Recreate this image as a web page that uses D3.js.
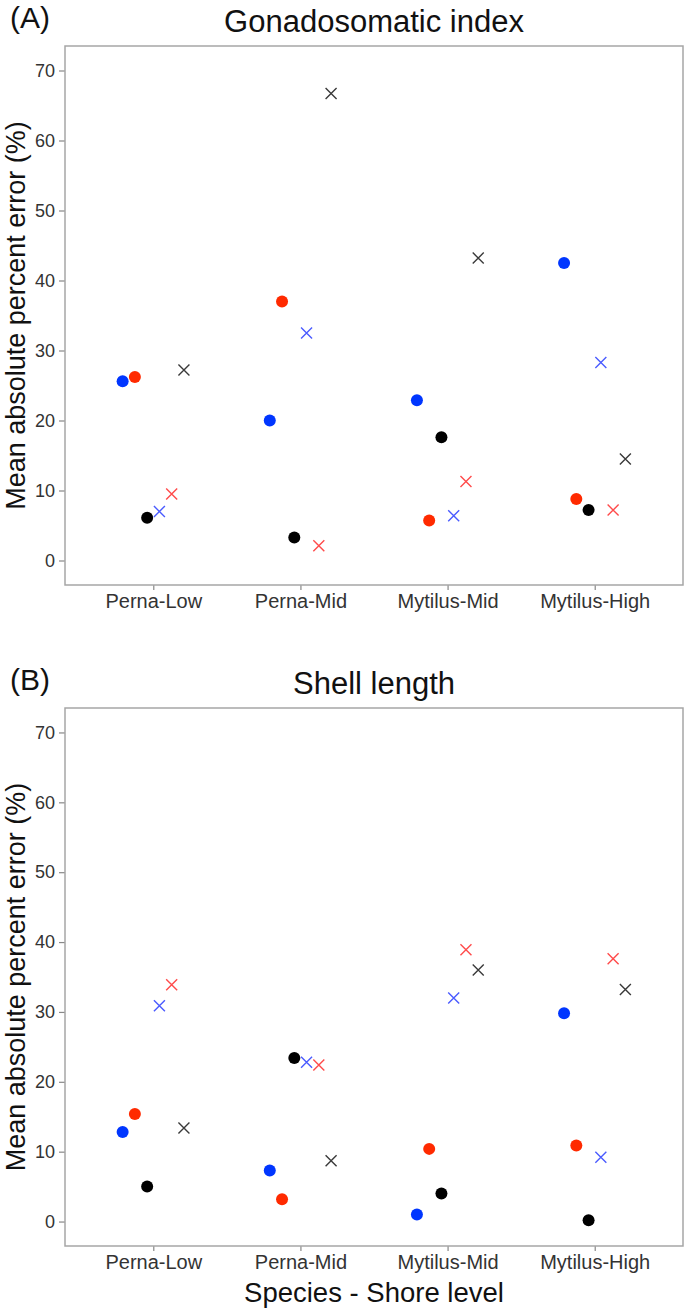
<!DOCTYPE html>
<html lang="en">
<head>
<meta charset="UTF-8">
<title>Mean absolute percent error</title>
<script src="https://d3js.org/d3.v7.min.js"></script>
<style>
  body { margin: 0; background: #fff; }
  text { font-family: "Liberation Sans", Arial, sans-serif; }
</style>
</head>
<body>
<script>
// categories on the x axis
const categories = ["Perna-Low", "Perna-Mid", "Mytilus-Mid", "Mytilus-High"];
const seriesKeys = ["blueDot", "redDot", "blackDot", "blueCross", "redCross", "blackCross"];
const yTicks = [0, 10, 20, 30, 40, 50, 60, 70];

// (A) Gonadosomatic index
const gsiBlueDot    = [25.6, 20.0, 22.9, 42.5];
const gsiRedDot     = [26.2, 37.0, 5.7, 8.8];
const gsiBlackDot   = [6.1, 3.3, 17.6, 7.2];
const gsiBlueCross  = [7.0, 32.5, 6.4, 28.3];
const gsiRedCross   = [9.5, 2.1, 11.3, 7.2];
const gsiBlackCross = [27.2, 66.7, 43.2, 14.5];

// (B) Shell length
const slBlueDot    = [12.8, 7.3, 1.0, 29.8];
const slRedDot     = [15.4, 3.2, 10.4, 10.9];
const slBlackDot   = [5.0, 23.4, 4.0, 0.2];
const slBlueCross  = [30.9, 22.8, 32.0, 9.2];
const slRedCross   = [33.9, 22.4, 38.9, 37.6];
const slBlackCross = [13.4, 8.7, 36.0, 33.2];

const W = 685, H = 1314;
const left = 65, right = 683;

const style = {
  blueDot:    {shape: "dot",   color: "#0036ff"},
  redDot:     {shape: "dot",   color: "#ff2a00"},
  blackDot:   {shape: "dot",   color: "#000000"},
  blueCross:  {shape: "cross", color: "#4a5bff"},
  redCross:   {shape: "cross", color: "#ff4b4b"},
  blackCross: {shape: "cross", color: "#3a3a3a"}
};

const panels = [
  {tag: "(A)", title: "Gonadosomatic index", top: 46, bottom: 585,
   series: [gsiBlueDot, gsiRedDot, gsiBlackDot, gsiBlueCross, gsiRedCross, gsiBlackCross]},
  {tag: "(B)", title: "Shell length", top: 708, bottom: 1246,
   series: [slBlueDot, slRedDot, slBlackDot, slBlueCross, slRedCross, slBlackCross]}
];

const svg = d3.select("body").append("svg")
  .attr("width", W)
  .attr("height", H);

const x = d3.scalePoint().domain(categories).range([left, right]).padding(0.6);
const step = x.step();
const dodge = d3.scaleBand().domain(seriesKeys).range([-step * 0.25, step * 0.25]);

panels.forEach(p => {
  const g = svg.append("g");
  const y = d3.scaleLinear().domain([-3.5, 73.5]).range([p.bottom, p.top]);

  // panel title and tag
  g.append("text")
    .attr("x", 10).attr("y", p.top - 18)
    .attr("font-size", 30).attr("fill", "#111")
    .text(p.tag);
  g.append("text")
    .attr("x", (left + right) / 2).attr("y", p.top - 14)
    .attr("text-anchor", "middle")
    .attr("font-size", 31).attr("fill", "#111")
    .text(p.title);

  // y axis
  const ya = g.append("g")
    .attr("transform", `translate(${left},0)`)
    .call(d3.axisLeft(y).tickValues(yTicks).tickSize(6).tickPadding(4));
  ya.select(".domain").remove();
  ya.selectAll(".tick line").attr("stroke", "#888").attr("stroke-width", 1.2);
  ya.selectAll(".tick text").attr("font-size", 18).attr("fill", "#333")
    .attr("font-family", "Liberation Sans, Arial, sans-serif");

  // x axis
  const xa = g.append("g")
    .attr("transform", `translate(0,${p.bottom})`)
    .call(d3.axisBottom(x).tickSize(5).tickPadding(4));
  xa.select(".domain").remove();
  xa.selectAll(".tick line").attr("stroke", "#888").attr("stroke-width", 1.2);
  xa.selectAll(".tick text").attr("font-size", 20).attr("fill", "#333")
    .attr("font-family", "Liberation Sans, Arial, sans-serif");

  // panel border
  g.append("rect")
    .attr("x", left).attr("y", p.top)
    .attr("width", right - left).attr("height", p.bottom - p.top)
    .attr("fill", "none").attr("stroke", "#a6a6a6").attr("stroke-width", 1.5);

  // y axis title
  g.append("text")
    .attr("transform", `translate(25,${(p.top + p.bottom) / 2}) rotate(-90)`)
    .attr("text-anchor", "middle")
    .attr("font-size", 27).attr("fill", "#111")
    .text("Mean absolute percent error (%)");

  // points
  seriesKeys.forEach((k, i) => {
    const s = style[k];
    const pts = categories.map((c, j) => ({c: c, v: p.series[i][j]}));
    const px = d => x(d.c) + dodge(k) + dodge.bandwidth() / 2;
    if (s.shape === "dot") {
      g.selectAll(null).data(pts).enter().append("circle")
        .attr("cx", px).attr("cy", d => y(d.v))
        .attr("r", 6).attr("fill", s.color);
    } else {
      const r = 5.5;
      g.selectAll(null).data(pts).enter().append("path")
        .attr("transform", d => `translate(${px(d)},${y(d.v)})`)
        .attr("d", `M${-r},${-r}L${r},${r}M${-r},${r}L${r},${-r}`)
        .attr("stroke", s.color).attr("stroke-width", 1.4).attr("fill", "none");
    }
  });
});

// x axis title (bottom panel only)
svg.append("text")
  .attr("x", (left + right) / 2).attr("y", 1302)
  .attr("text-anchor", "middle")
  .attr("font-size", 27.5).attr("fill", "#111")
  .text("Species - Shore level");
</script>
</body>
</html>
